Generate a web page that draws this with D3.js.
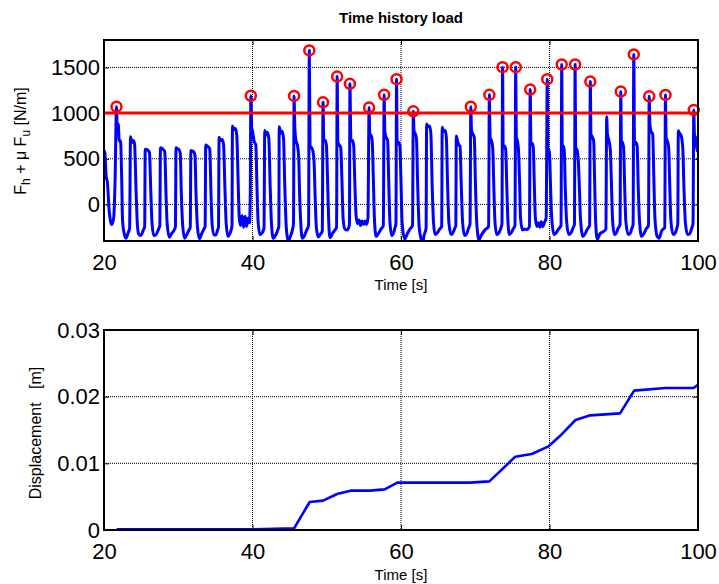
<!DOCTYPE html>
<html><head><meta charset="utf-8">
<script src="https://cdn.jsdelivr.net/npm/d3@7"></script>
<style>
body{margin:0;background:#fff}
svg{display:block}
text{font-family:Arial,"Liberation Sans",Helvetica,sans-serif;fill:#000}
</style>
</head><body>
<svg id="chart" width="719" height="584"></svg>
<script>
// ---------------- DATA ----------------
const chartTitle = "Time history load";
const timeTicks = [20, 40, 60, 80, 100];
const loadTicks = [0, 500, 1000, 1500];
const loadDomain = [-400, 1800];
const threshold = 1000;
const dispTicks = [0, 0.01, 0.02, 0.03];
const dispTickLabels = ["0", "0.01", "0.02", "0.03"];
const dispDomain = [0, 0.03];
const timeDomain = [20, 100];

// load time history [time s, load N/m]
const loadData = [
 [20.0,590],[20.12,560],[20.3,300],[20.45,250],[20.7,-70],[20.9,-190],[21.05,-220],[21.3,-150],[21.5,290],
 [21.68,1070],[21.78,843],[21.92,880],[22.05,697],[22.22,697],[22.38,290],[22.5,-180],[22.7,-310],[22.95,-370],[23.25,-310],[23.45,-260],
 [23.57,740],[23.75,678],[23.95,700],[24.12,660],[24.3,200],[24.45,-150],[24.65,-320],[24.95,-340],[25.3,-280],[25.48,-240],
 [25.55,605],[25.75,600],[25.95,590],[26.12,570],[26.3,150],[26.45,-180],[26.7,-340],[27.0,-330],[27.35,-270],[27.52,-230],
 [27.6,620],[27.8,615],[28.0,600],[28.18,580],[28.35,120],[28.5,-200],[28.8,-360],[29.1,-320],[29.45,-280],[29.62,-240],
 [29.7,620],[29.9,610],[30.1,600],[30.27,560],[30.42,100],[30.6,-230],[30.85,-370],[31.15,-330],[31.45,-280],[31.62,-250],
 [31.7,590],[31.9,585],[32.1,575],[32.25,540],[32.4,100],[32.6,-260],[32.85,-375],[33.15,-320],[33.45,-270],[33.62,-240],
 [33.7,650],[33.9,640],[34.1,625],[34.25,600],[34.4,150],[34.55,-200],[34.8,-330],[35.05,-335],[35.3,-280],[35.42,-250],
 [35.5,735],[35.7,700],[35.9,710],[36.1,660],[36.28,200],[36.45,-200],[36.7,-350],[36.95,-320],[37.15,-270],[37.24,-230],
 [37.3,860],[37.5,820],[37.7,830],[37.88,760],[38.05,300],[38.22,-150],[38.4,-230],[38.6,-120],[38.8,-250],[39.0,-130],[39.2,-240],[39.4,-150],[39.6,-200],[39.7,100],
 [39.78,1190],[39.88,843],[40.0,806],[40.2,697],[40.45,650],[40.6,200],[40.75,-180],[41.0,-330],[41.3,-310],[41.55,-260],
 [41.65,810],[41.8,760],[42.0,790],[42.2,720],[42.38,200],[42.55,-200],[42.8,-370],[43.1,-340],[43.4,-280],[43.55,-240],
 [43.6,850],[43.8,780],[44.0,800],[44.18,720],[44.35,200],[44.55,-250],[44.8,-400],[45.1,-350],[45.4,-270],[45.52,-210],
 [45.6,1188],[45.7,843],[45.85,700],[46.05,650],[46.22,520],[46.35,100],[46.5,-200],[46.7,-370],[46.95,-350],[47.3,-280],[47.55,-230],
 [47.65,1686],[47.75,640],[47.95,620],[48.15,580],[48.3,450],[48.45,50],[48.6,-250],[48.85,-355],[49.1,-330],[49.4,-290],
 [49.5,1118],[49.6,697],[49.8,700],[49.95,650],[50.1,300],[50.25,-150],[50.45,-365],[50.75,-320],[51.1,-280],[51.32,-250],
 [51.4,1400],[51.5,680],[51.7,650],[51.88,623],[52.05,250],[52.2,-150],[52.45,-270],[52.75,-280],[53.0,-240],[53.06,-210],
 [53.12,1320],[53.25,697],[53.45,700],[53.62,650],[53.78,250],[53.95,-120],[54.15,-210],[54.35,-170],[54.55,-230],[54.75,-180],[54.95,-220],[55.15,-180],[55.35,-220],[55.55,-150],
 [55.7,1060],[55.8,770],[55.95,760],[56.12,697],[56.27,300],[56.42,-150],[56.65,-350],[56.95,-320],[57.3,-270],[57.62,-230],
 [57.73,1200],[57.82,806],[58.0,733],[58.2,700],[58.35,250],[58.5,-180],[58.75,-340],[59.0,-310],[59.2,-250],[59.32,-210],
 [59.4,1371],[59.48,660],[59.65,680],[59.85,640],[60.0,250],[60.15,-200],[60.5,-380],[60.85,-320],[61.2,-270],[61.55,-230],
 [61.66,1019],[61.75,806],[61.9,780],[62.08,720],[62.25,200],[62.45,-250],[62.75,-390],[62.9,-425],[63.1,-340],[63.38,-260],
 [63.45,880],[63.65,850],[63.85,860],[64.02,780],[64.2,200],[64.38,-200],[64.6,-330],[64.9,-310],[65.2,-270],[65.48,-240],
 [65.55,845],[65.75,800],[65.95,810],[66.1,740],[66.28,200],[66.45,-200],[66.75,-330],[67.0,-310],[67.25,-260],[67.38,-230],
 [67.45,750],[67.6,700],[67.8,650],[67.95,640],[68.12,200],[68.3,-200],[68.55,-340],[68.85,-320],[69.1,-260],[69.3,-210],
 [69.4,1070],[69.5,806],[69.68,770],[69.87,733],[70.02,250],[70.2,-200],[70.5,-385],[70.8,-340],[71.3,-280],[71.8,-240],
 [71.9,1200],[72.0,733],[72.18,700],[72.35,623],[72.5,200],[72.65,-180],[72.9,-330],[73.2,-310],[73.45,-260],[73.6,-210],
 [73.68,1503],[73.76,623],[73.95,640],[74.1,600],[74.25,200],[74.4,-180],[74.6,-330],[74.85,-310],[75.1,-270],[75.35,-230],
 [75.45,1503],[75.53,733],[75.68,700],[75.82,600],[75.97,250],[76.1,-150],[76.35,-280],[76.65,-270],[76.95,-275],[77.3,-240],
 [77.4,1257],[77.5,660],[77.67,670],[77.82,620],[77.96,200],[78.1,-150],[78.3,-240],[78.5,-200],[78.7,-250],[78.9,-190],[79.1,-245],[79.3,-200],[79.55,-150],
 [79.7,1371],[79.78,586],[79.9,600],[80.0,560],[80.14,200],[80.3,-150],[80.6,-330],[80.9,-310],[81.2,-270],[81.55,-230],
 [81.65,1532],[81.72,623],[81.85,640],[81.98,600],[82.12,200],[82.3,-180],[82.6,-330],[82.9,-310],[83.15,-260],[83.36,-220],
 [83.45,1532],[83.52,623],[83.7,600],[83.88,480],[84.02,200],[84.17,-150],[84.5,-350],[84.8,-320],[85.1,-270],[85.4,-230],
 [85.5,1345],[85.58,770],[85.75,740],[85.95,697],[86.08,250],[86.22,-200],[86.45,-380],[86.8,-320],[87.2,-300],[87.6,-270],
 [87.7,960],[87.8,770],[88.0,700],[88.2,586],[88.35,200],[88.5,-180],[88.75,-330],[89.0,-310],[89.25,-260],[89.5,-220],
 [89.6,1235],[89.68,697],[89.82,680],[89.98,623],[90.12,200],[90.28,-180],[90.6,-330],[90.9,-310],[91.1,-260],[91.26,-220],
 [91.35,1642],[91.45,660],[91.62,680],[91.8,640],[91.95,200],[92.1,-150],[92.4,-350],[92.7,-320],[93.0,-270],[93.33,-230],
 [93.43,1183],[93.52,880],[93.68,800],[93.9,770],[94.05,300],[94.2,-150],[94.5,-350],[94.75,-370],[95.1,-290],[95.52,-250],
 [95.62,1199],[95.7,733],[95.85,700],[96.05,623],[96.2,200],[96.35,-180],[96.65,-330],[96.95,-310],[97.15,-260],[97.28,-210],
 [97.35,806],[97.5,780],[97.7,760],[97.95,620],[98.1,200],[98.3,-200],[98.6,-330],[98.9,-320],[99.15,-260],[99.33,-210],
 [99.43,1034],[99.52,770],[99.7,720],[99.88,586],[100.0,680]
];

// cumulative displacement [time s, displacement m]
const dispTime = [21.7, 39.8, 45.6, 47.7, 49.5, 51.4, 53.2, 55.8, 57.8, 59.5, 69.3, 71.9, 75.4, 77.6, 79.8, 81.6, 83.5, 85.5, 89.5, 91.4, 95.6, 99.4, 100];
const dispValue = [0.0001, 0.0001, 0.00025, 0.0042, 0.0044, 0.0054, 0.0059, 0.0059, 0.0061, 0.0071, 0.0071, 0.0073, 0.011, 0.0114, 0.0125, 0.0143, 0.0165, 0.0172, 0.0175, 0.0209, 0.0213, 0.0213, 0.0218];

// ---------------- DRAW ----------------
const svg = d3.select("#chart");
const tickFont = 22;

function panel(box, yDomain, yTicks, yFmt) {
  const x = d3.scaleLinear().domain(timeDomain).range([box.left, box.right]);
  const y = d3.scaleLinear().domain(yDomain).range([box.bottom, box.top]);
  const g = svg.append("g");
  g.append("g").selectAll("line").data(timeTicks.filter(t => t > timeDomain[0] && t < timeDomain[1]))
    .join("line").attr("x1", d => x(d)).attr("x2", d => x(d)).attr("y1", box.top).attr("y2", box.bottom)
    .attr("stroke", "#000").attr("stroke-width", 1).attr("stroke-dasharray", "1,1");
  g.append("g").selectAll("line").data(yTicks.filter(t => t > yDomain[0] && t < yDomain[1]))
    .join("line").attr("y1", d => y(d)).attr("y2", d => y(d)).attr("x1", box.left).attr("x2", box.right)
    .attr("stroke", "#000").attr("stroke-width", 1).attr("stroke-dasharray", "1,1");
  g.append("g").attr("transform", `translate(0,${box.bottom})`)
    .call(d3.axisBottom(x).tickValues(timeTicks).tickSizeInner(-5).tickSizeOuter(0).tickPadding(13).tickFormat(d3.format("d")));
  g.append("g").attr("transform", `translate(0,${box.top})`)
    .call(d3.axisTop(x).tickValues(timeTicks).tickSizeInner(-5).tickSizeOuter(0).tickFormat(""));
  g.append("g").attr("transform", `translate(${box.left},0)`)
    .call(d3.axisLeft(y).tickValues(yTicks).tickSizeInner(-5).tickSizeOuter(0).tickPadding(4).tickFormat(yFmt));
  g.append("g").attr("transform", `translate(${box.right},0)`)
    .call(d3.axisRight(y).tickValues(yTicks).tickSizeInner(-5).tickSizeOuter(0).tickFormat(""));
  g.selectAll(".domain").remove();
  g.selectAll(".tick line").attr("stroke", "#000").attr("stroke-width", 1);
  g.selectAll(".tick text").attr("font-size", tickFont).attr("font-family", "Arial, 'Liberation Sans', sans-serif");
  return {x, y, g};
}

function frame(box) {
  svg.append("rect").attr("x", box.left).attr("y", box.top)
    .attr("width", box.right - box.left).attr("height", box.bottom - box.top)
    .attr("fill", "none").attr("stroke", "#000").attr("stroke-width", 2);
}

// ----- top panel -----
const box1 = {left: 104, right: 698, top: 40, bottom: 241};
const p1 = panel(box1, loadDomain, loadTicks, d3.format("d"));
svg.append("clipPath").attr("id", "clip1").append("rect")
  .attr("x", box1.left).attr("y", box1.top).attr("width", box1.right - box1.left).attr("height", box1.bottom - box1.top);
svg.append("path").datum(loadData)
  .attr("clip-path", "url(#clip1)")
  .attr("d", d3.line().curve(d3.curveMonotoneX).x(d => p1.x(d[0])).y(d => p1.y(d[1])))
  .attr("fill", "none").attr("stroke", "#0000ff").attr("stroke-width", 3).attr("stroke-linejoin", "round");
svg.append("line").attr("x1", p1.x(timeDomain[0])).attr("x2", p1.x(timeDomain[1]))
  .attr("y1", p1.y(threshold)).attr("y2", p1.y(threshold))
  .attr("stroke", "#ff0000").attr("stroke-width", 3);
svg.append("g").selectAll("circle").data(loadData.filter(d => d[1] > threshold))
  .join("circle").attr("cx", d => p1.x(d[0])).attr("cy", d => p1.y(d[1])).attr("r", 5)
  .attr("fill", "none").attr("stroke", "#ff0000").attr("stroke-width", 2.5);
frame(box1);

svg.append("text").attr("x", 401).attr("y", 23).attr("text-anchor", "middle")
  .attr("font-size", 15).attr("font-weight", "bold").text(chartTitle);
svg.append("text").attr("x", 401).attr("y", 290).attr("text-anchor", "middle")
  .attr("font-size", 15).text("Time [s]");
const yl1 = svg.append("text").attr("transform", "translate(26,141) rotate(-90)")
  .attr("text-anchor", "middle").attr("font-size", 16);
yl1.append("tspan").text("F");
yl1.append("tspan").attr("font-size", 12).attr("dy", 4).text("h");
yl1.append("tspan").attr("dy", -4).text(" + \u03bc F");
yl1.append("tspan").attr("font-size", 12).attr("dy", 4).text("u");
yl1.append("tspan").attr("dy", -4).text(" [N/m]");

// ----- bottom panel -----
const box2 = {left: 104, right: 698, top: 330, bottom: 530};
const p2 = panel(box2, dispDomain, dispTicks, (d, i) => dispTickLabels[i]);
const dispData = dispTime.map((t, i) => [t, dispValue[i]]);
svg.append("path").datum(dispData)
  .attr("d", d3.line().x(d => p2.x(d[0])).y(d => p2.y(d[1])))
  .attr("fill", "none").attr("stroke", "#0000ff").attr("stroke-width", 2.6).attr("stroke-linejoin", "round");
frame(box2);
svg.append("text").attr("x", 401).attr("y", 580).attr("text-anchor", "middle")
  .attr("font-size", 15).text("Time [s]");
svg.append("text").attr("transform", "translate(41,433) rotate(-90)")
  .attr("text-anchor", "middle").attr("font-size", 16).text("Displacement\u00a0\u00a0\u00a0[m]");
</script>
</body></html>
